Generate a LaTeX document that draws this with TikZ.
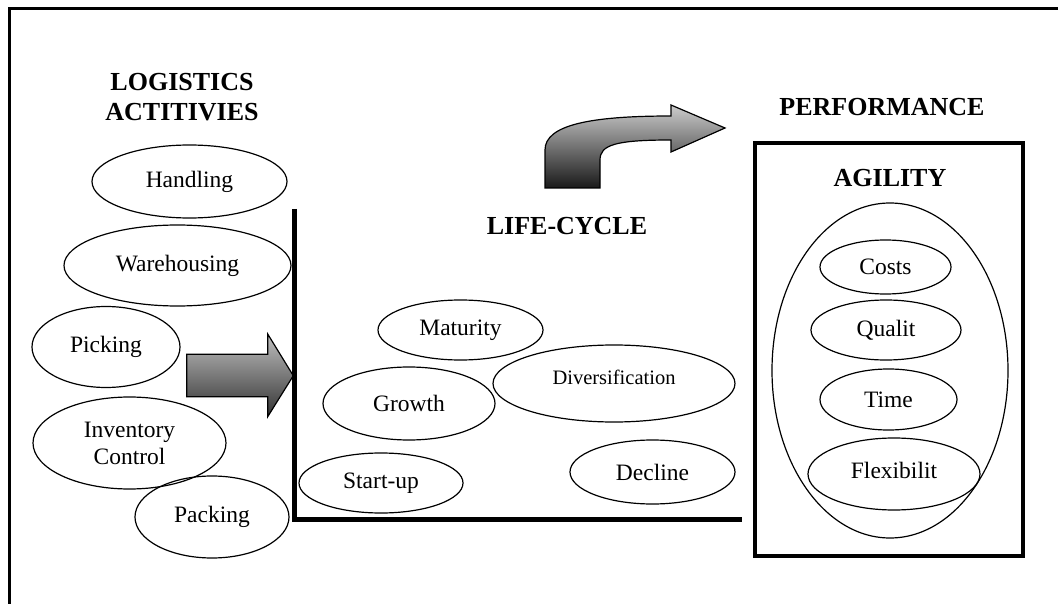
\documentclass[tikz,border=0pt]{standalone}
\usepackage{fontspec}
\setmainfont{Liberation Serif}
\usetikzlibrary{shapes.geometric}
\tikzset{
  ell/.style={ellipse, draw, line width=1.2pt, inner sep=0pt, align=center,
    font=\fontsize{23.5}{27}\selectfont},
  ttl/.style={inner sep=0pt, align=center, font=\bfseries\fontsize{26}{30}\selectfont},
  blockarrow/.style={draw=black, line width=1.2pt, line join=miter},
  axisline/.style={line width=4.5pt, line join=miter},
}
\begin{document}
\begin{tikzpicture}[x=1pt,y=-1pt]
\useasboundingbox (0,0) rectangle (1058,604);
% outer frame (top and left sides only visible)
\draw[line width=2.5pt] (9.7,604) -- (9.7,8.7) -- (1058,8.7);

% titles
\node[ttl] (logt) at (182,97.5) {LOGISTICS\\ACTITIVIES};
\node[ttl] (lct) at (567,226) {LIFE-CYCLE};
\node[ttl] (perft) at (882,107) {PERFORMANCE};
\node[ttl] (agit) at (890,178) {AGILITY};

% logistics activities
\node[ell, minimum width=195pt, minimum height=73pt] (handling) at (189.5,181.5) {Handling};
\node[ell, minimum width=227pt, minimum height=81pt] (warehousing) at (177.5,265.5) {Warehousing};
\node[ell, minimum width=148pt, minimum height=81pt] (picking) at (106,347) {Picking};
\node[ell, minimum width=193pt, minimum height=92pt] (inventory) at (129.5,443) {Inventory\\Control};
\node[ell, minimum width=154pt, minimum height=82pt] (packing) at (212,517) {Packing};

% block arrow
\path[blockarrow, top color=black!25, bottom color=black!80]
  (186.7,354.3) -- (267.7,354.3) -- (267.7,334) -- (293.3,375.7)
  -- (267.7,416.7) -- (267.7,396.7) -- (186.7,396.7) -- cycle;

% axes
\coordinate (axtop) at (294.5,209);
\coordinate (axorig) at (294.5,519.5);
\coordinate (axend) at (742,519.5);
\draw[axisline] (axtop) -- (axorig) -- (axend);

% life-cycle stages
\node[ell, minimum width=165pt, minimum height=60pt] (maturity) at (460.5,330) {Maturity};
\node[ell, minimum width=172pt, minimum height=73pt] (growth) at (409,403.5) {Growth};
\node[ell, minimum width=242pt, minimum height=77pt, font=\fontsize{20.5}{24}\selectfont] (divers) at (614,383.5) {\raisebox{12pt}{Diversification}};
\node[ell, minimum width=164pt, minimum height=60pt] (startup) at (381,483) {Start-up};
\node[ell, minimum width=165pt, minimum height=64pt] (decline) at (652.5,472) {Decline};

% curved arrow
\path[blockarrow, top color=black!20, bottom color=black!90]
  (545,188) -- (545,150) .. controls (545,125) and (590,116) .. (671,116)
  -- (671,105) -- (725,128) -- (671,152) -- (671,140)
  .. controls (615,140) and (600,145) .. (600,160) -- (600,188) -- cycle;

% performance box
\draw[line width=4pt, line join=miter] (754.7,143.3) rectangle (1022.7,556);
\node[ell, minimum width=236pt, minimum height=335pt] (agility) at (890,370.5) {};
\node[ell, minimum width=131pt, minimum height=54pt] (costs) at (885.5,267) {Costs};
\node[ell, minimum width=150pt, minimum height=60pt] (quality) at (886,330) {Qualit};
\node[ell, minimum width=137pt, minimum height=61pt] (time) at (888.5,399.5) {Time};
\node[ell, minimum width=172pt, minimum height=72pt] (flex) at (894,474) {\raisebox{8pt}{Flexibilit}};
\end{tikzpicture}
\end{document}
